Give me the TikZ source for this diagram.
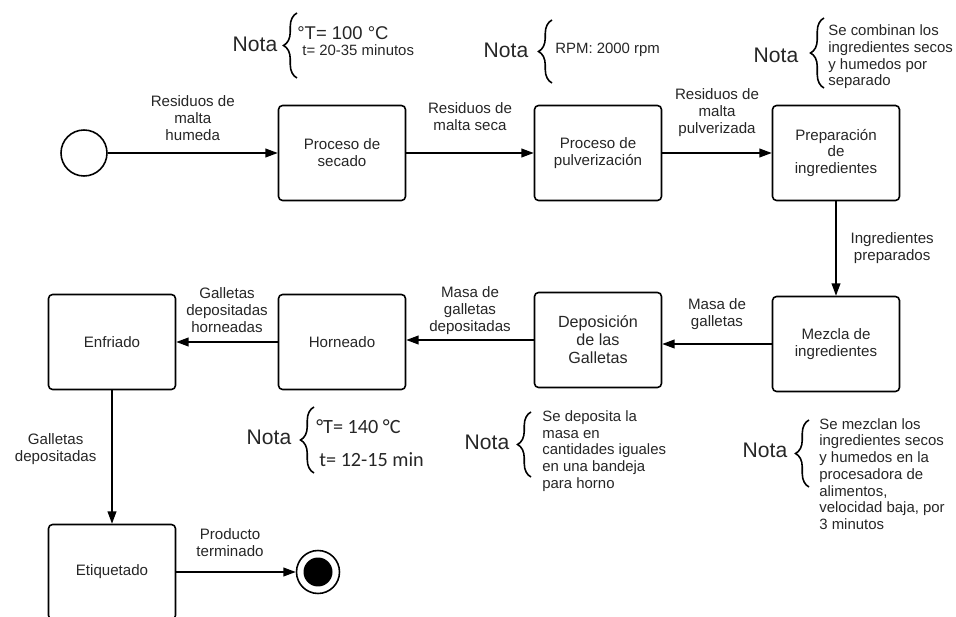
\documentclass[tikz,border=0pt]{standalone}
\usepackage{fontspec}
\setmainfont{Liberation Sans}
\newfontfamily\carlito{Carlito}
\usepackage{tikz}
\usetikzlibrary{arrows.meta,positioning,decorations.pathreplacing}

\begin{document}
\begin{tikzpicture}[x=0.02cm,y=-0.02cm,>={Triangle[length=7pt,width=5pt]},
  every node/.style={font=\fontsize{8.6}{9.6}\selectfont,text=black!85},
  proc/.style={draw=black,rounded corners=0.08cm,line width=0.9pt,minimum width=2.54cm,minimum height=1.9cm,align=center},
  flujo/.style={->,line width=0.7pt},
  lbl/.style={align=center,inner sep=0pt},
  nota/.style={font=\fontsize{12}{14}\selectfont,inner sep=0pt},
  ntxt/.style={anchor=west,align=left,inner sep=0pt,font=\fontsize{8.5}{9.5}\selectfont},
  llave/.style={decorate,decoration={brace,amplitude=0.27cm},line width=0.9pt}]
  \useasboundingbox (0,0) rectangle (956,617);
  \node[circle,draw=black,line width=0.9pt,minimum size=0.92cm] (I) at (84,153) {};
  \node[proc] (Sec) at (342,153) {Proceso de\\secado};
  \node[proc] (Pul) at (598,153) {Proceso de\\pulverización};
  \node[proc] (Pre) at (836,153) {Preparación\\de\\ingredientes};
  \node[proc] (Mez) at (836,344) {Mezcla de\\ingredientes};
  \node[proc,font=\fontsize{9.2}{10.2}\selectfont] (Dep) at (598,340) {Deposición\\de las\\Galletas};
  \node[proc] (Hor) at (342,342) {Horneado};
  \node[proc] (Enf) at (112,342) {Enfriado};
  \node[proc] (Eti) at (112,572) {Etiquetado};
  \node[circle,draw=black,line width=0.9pt,minimum size=0.86cm] (Fin) at (318,572) {};
  \fill[black] (Fin.center) circle (0.29cm);

  \draw[flujo] (I) -- node[lbl,above=0.24cm] (lHum) {Residuos de\\malta\\humeda} (Sec);
  \draw[flujo] (Sec) -- node[lbl,above=0.44cm] (lSec) {Residuos de\\malta seca} (Pul);
  \draw[flujo] (Pul) -- node[lbl,above=0.32cm] (lPul) {Residuos de\\malta\\pulverizada} (Pre);
  \draw[flujo] (Pre) -- node[lbl,right=0.28cm] (lPre) {Ingredientes\\preparados} (Mez);
  \draw[flujo] (Mez.west) -- node[lbl,above=0.28cm] (lMas) {Masa de\\galletas} (Mez.west -| Dep.east);
  \draw[flujo] (Dep.west) -- node[lbl,above=0.1cm] (lMD) {Masa de\\galletas\\depositadas} (Dep.west -| Hor.east);
  \draw[flujo] (Hor) -- node[lbl,above=0.18cm] (lGH) {Galletas\\depositadas\\horneadas} (Enf);
  \draw[flujo] (Enf) -- node[lbl,left=0.3cm,yshift=0.16cm] (lGD) {Galletas\\depositadas} (Eti);
  \draw[flujo] (Eti) -- node[lbl,above=0.3cm,xshift=-0.12cm] (lPro) {Producto\\terminado} (Fin);

  \node[nota] (N1) at (255,44) {Nota};
  \draw[llave] (297,78) -- (297,13);
  \node[ntxt,font=\fontsize{10.5}{12}\selectfont] (N1a) at (297,33) {°T= 100 °C};
  \node[ntxt] (N1b) at (302,50) {t= 20-35 minutos};

  \node[nota] (N2) at (506,50) {Nota};
  \draw[llave] (552,83) -- (552,20);
  \node[ntxt] (N2a) at (555,50) {RPM: 2000 rpm};

  \node[nota] (N3) at (776,55) {Nota};
  \draw[llave] (824,88) -- (824,18);
  \node[ntxt] (N3a) at (828,57) {Se combinan los\\ingredientes secos\\y humedos por\\separado};

  \node[nota] (N4) at (269,437) {Nota};
  \draw[llave] (314,473) -- (314,407);
  \node[ntxt,font=\carlito\fontsize{11.5}{13}\selectfont] (N4a) at (316,427) {°T= 140 °C};
  \node[ntxt,font=\carlito\fontsize{11.5}{13}\selectfont] (N4b) at (319,460) {t= 12-15 min};

  \node[nota] (N5) at (487,442) {Nota};
  \draw[llave] (531,477) -- (531,412);
  \node[ntxt] (N5a) at (542,451) {Se deposita la\\masa en\\cantidades iguales\\en una bandeja\\para horno};

  \node[nota] (N6) at (765,450) {Nota};
  \draw[llave] (809,487) -- (809,420);
  \node[ntxt] (N6a) at (819,474) {Se mezclan los\\ingredientes secos\\y humedos en la\\procesadora de\\alimentos,\\velocidad baja, por\\3 minutos};
\end{tikzpicture}
\end{document}
